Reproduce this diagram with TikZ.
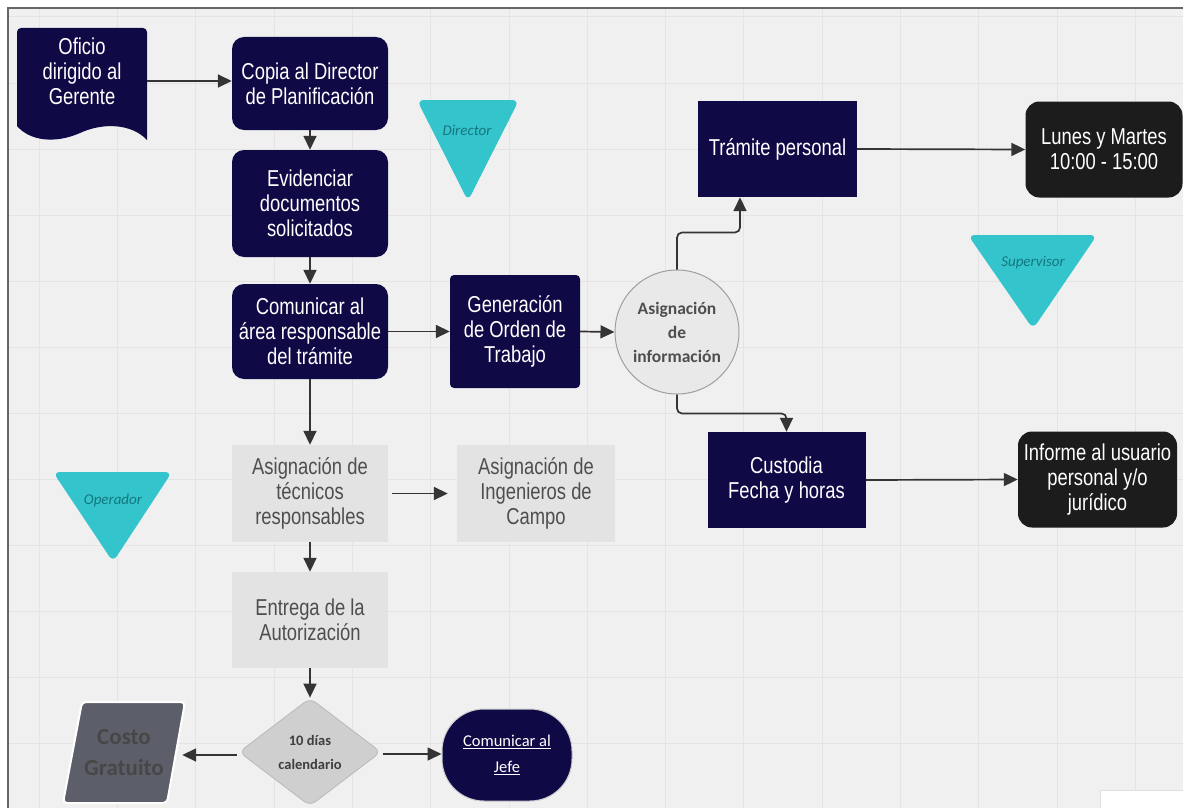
\documentclass[tikz,border=0pt]{standalone}
\usepackage{fontspec}
\setmainfont{Liberation Sans}
\newfontfamily\boxfont[FakeStretch=0.8]{Liberation Sans}
\newfontfamily\labfont{Carlito}
\usetikzlibrary{arrows.meta,shapes.geometric,calc}

\definecolor{navy}{RGB}{15,10,70}
\definecolor{ink}{RGB}{28,28,28}
\definecolor{tealfill}{RGB}{52,196,204}
\definecolor{tealtext}{RGB}{22,118,126}
\definecolor{paper}{RGB}{240,240,240}
\definecolor{gridc}{RGB}{228,228,228}
\definecolor{lightbox}{RGB}{227,227,227}
\definecolor{graytext}{RGB}{78,78,78}
\definecolor{arrowc}{RGB}{52,52,52}
\definecolor{slate}{RGB}{92,94,105}

\tikzset{
  base/.style={inner sep=0pt, align=center, font=\boxfont\fontsize{23}{25}\selectfont},
  navyround/.style={base, rectangle, rounded corners=12pt, fill=navy, text=white,
    minimum width=156pt, minimum height=95pt},
  navysquare/.style={base, rectangle, fill=navy, text=white,
    minimum width=158pt, minimum height=96pt},
  inkround/.style={base, rectangle, rounded corners=14pt, fill=ink, text=white,
    minimum width=157pt, minimum height=96pt},
  graybox/.style={base, rectangle, fill=lightbox, text=graytext,
    minimum width=156pt, minimum height=97pt},
  roletri/.style={fill=tealfill, rounded corners=7pt},
  rolelabel/.style={inner sep=1pt, text=tealtext, font=\labfont\itshape\fontsize{15}{16}\selectfont},
  arr/.style={draw=arrowc, line width=1.7pt, -{Triangle[length=14pt,width=13pt]}},
}

\begin{document}
\begin{tikzpicture}[x=1pt,y=-1pt]
  % canvas, frame and grid
  \useasboundingbox (0,0) rectangle (1183,808);
  \fill[white] (0,0) rectangle (1183,808);
  \fill[paper] (8,8) rectangle (1183,808);
  \foreach \gx in {0,...,14} {
    \draw[gridc, line width=1pt] ({39.2+78.3*\gx},8) -- ({39.2+78.3*\gx},808);
  }
  \foreach \gy in {0,...,11} {
    \draw[gridc, line width=1pt] (8,{17+66*\gy}) -- (1183,{17+66*\gy});
  }
  \draw[gray!80!black, line width=1.5pt] (1183,8) -- (8,8) -- (8,808);
  \fill[white] (1100,790) rectangle (1183,808);
  \draw[gray!25, line width=0.8pt] (1100,808) -- (1100,790) -- (1183,790);

  % document shape
  \fill[navy] (17,126) [rounded corners=4pt] -- (17,28) -- (147,28) [sharp corners] -- (147,140)
     .. controls (132,124) and (104,122) .. (80,133)
     .. controls (55,144) and (30,141) .. (17,126) -- cycle;
  \node[inner sep=0pt, minimum width=130pt, minimum height=106pt] (oficio) at (82,81) {};
  \node[base, text=white] (oficiotxt) at (82,71) {Oficio\\dirigido al\\Gerente};

  % main column
  \node[navyround, minimum height=93pt] (copia) at (310,83.5) {Copia al Director\\de Planificación};
  \node[navyround, minimum height=107pt] (evid) at (310,203.5) {Evidenciar\\documentos\\solicitados};
  \node[navyround] (comun) at (310,331.5) {Comunicar al\\área responsable\\del trámite};
  \node[base, rectangle, rounded corners=4pt, fill=navy, text=white,
        minimum width=130pt, minimum height=113pt] (gen) at (515,331.5) {Generación\\de Orden de\\Trabajo};
  \node[circle, draw=gray!75, line width=1pt, fill=gray!17, minimum size=124pt, inner sep=0pt,
        align=center, text=graytext, font=\labfont\bfseries\fontsize{17.5}{24}\selectfont]
        (circ) at (677,332) {Asignación\\de\\información};

  % right branch
  \node[navysquare, minimum width=159pt] (tram) at (777.5,149) {Trámite personal};
  \node[inkround] (lunes) at (1104,149.5) {Lunes y Martes\\10:00 - 15:00};
  \node[navysquare, minimum width=158pt] (cust) at (786.5,480) {Custodia\\Fecha y horas};
  \node[inkround, minimum width=159pt] (inf) at (1097.5,479.5) {Informe al usuario\\personal y/o\\jurídico};

  % light-grey steps
  \node[graybox] (tec) at (310,493.5) {Asignación de\\técnicos\\responsables};
  \node[graybox, minimum width=158pt] (ing) at (536,493.5) {Asignación de\\Ingenieros de\\Campo};
  \node[graybox, minimum height=96pt] (ent) at (310,620) {Entrega de la\\Autorización};

  % decision and outcomes
  \node[diamond, fill=gray!38, draw=gray!55, line width=0.8pt, rounded corners=7pt,
        minimum width=142pt, minimum height=108pt, inner sep=0pt, align=center,
        text=graytext!80!black, font=\labfont\bfseries\fontsize{14.5}{24}\selectfont]
        (dia) at (310,752) {10 días\\calendario};
  \filldraw[fill=slate, draw=white, line width=2pt, rounded corners=4pt]
        (82,702) -- (185,702) -- (167,803) -- (63,803) -- cycle;
  \node[rectangle, minimum width=116pt, minimum height=101pt, inner sep=0pt, align=center,
        text=black!72, font=\labfont\bfseries\fontsize{23}{31}\selectfont]
        (costo) at (124,752.5) {Costo\\Gratuito};
  \node[rectangle, rounded corners=42pt, fill=navy, draw=gray!40, line width=1pt,
        minimum width=130pt, minimum height=92pt, inner sep=0pt, align=center, text=white,
        font=\labfont\fontsize{16.5}{26}\selectfont]
        (jefe) at (507,755) {\underline{Comunicar al}\\\underline{Jefe}};

  % role markers
  \fill[roletri] (417,100) -- (519,100) -- (468,201) -- cycle;
  \node[rolelabel] (director) at (467,130) {Director};
  \fill[roletri] (968,235) -- (1097,235) -- (1033,329) -- cycle;
  \node[rolelabel] (supervisor) at (1033,263) {Supervisor};
  \fill[roletri] (53,472) -- (172,472) -- (113,562) -- cycle;
  \node[rolelabel] (operador) at (113,500) {Operador};

  % connectors
  \draw[arr] (oficio.east) -- (oficio.east -| copia.west);
  \draw[arr] (copia.south) -- (evid.north);
  \draw[arr] (evid.south) -- (comun.north);
  \draw[arr] (comun.east) -- (gen.west);
  \draw[arr] (gen.east) -- (circ.west);
  \draw[arr, rounded corners=5pt] (circ.north) -- ++(0,-37) -| ([xshift=-37.5pt]tram.south);
  \draw[arr, rounded corners=5pt] (circ.south) -- ++(0,19) -| (cust.north);
  \draw[arr] (tram.east) -- (lunes.west);
  \draw[arr] (cust.east) -- (inf.west);
  \draw[arr] (comun.south) -- (tec.north);
  \draw[arr, shorten <=4pt, shorten >=9pt] (tec.east) -- (ing.west);
  \draw[arr] (tec.south) -- (ent.north);
  \draw[arr] (ent.south) -- (dia.north);
  \draw[arr, shorten <=2pt] ([yshift=-3pt]dia.west) -- ([yshift=-3pt]dia.west -| costo.east);
  \draw[arr, shorten <=2pt] ([yshift=-2pt]dia.east) -- ([yshift=-2pt]dia.east -| jefe.west);
\end{tikzpicture}
\end{document}
